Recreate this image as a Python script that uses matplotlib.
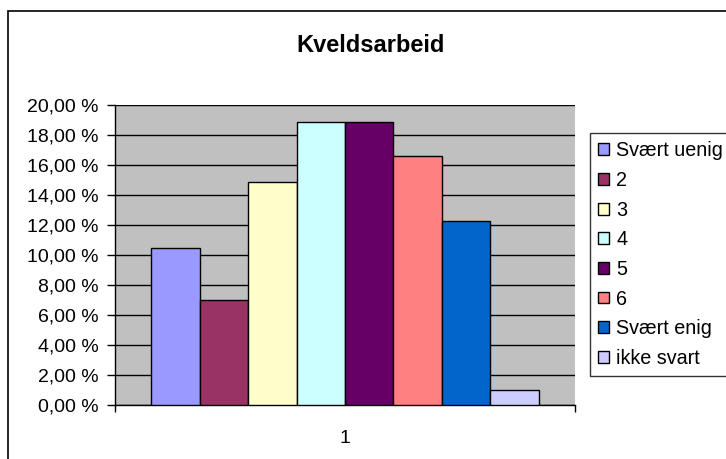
import matplotlib
matplotlib.use("Agg")
import matplotlib.pyplot as plt
from matplotlib.patches import Rectangle
import numpy as np

plt.rcParams['font.family'] = ['Liberation Sans', 'DejaVu Sans']

title = "Kveldsarbeid"
series_names = ["Svært uenig", "2", "3", "4", "5", "6", "Svært enig", "ikke svart"]
values = [10.5, 7.0, 14.9, 18.9, 18.9, 16.6, 12.3, 1.0]
colors = ["#9999FF", "#993366", "#FFFFCC", "#CCFFFF", "#660066", "#FF8080", "#0066CC", "#CCCCFF"]
category_label = "1"
yticks = [0, 2, 4, 6, 8, 10, 12, 14, 16, 18, 20]

W, H = 726, 459
fig = plt.figure(figsize=(W / 100, H / 100), dpi=100)
fig.patch.set_facecolor("white")

# chart-area border (extends beyond right/bottom of image)
fig.patches.append(Rectangle((8 / W, -0.2), 1.5, 1.2 - 11 / H,
                             transform=fig.transFigure, fill=False,
                             edgecolor="black", linewidth=1.2, zorder=0))

ax = fig.add_axes([115 / W, 1 - 405 / H, 460 / W, 300 / H])
ax.set_facecolor("#C0C0C0")

n = len(values)
unit = 1.0 / (n + 1.5)
lefts = -0.5 + 0.75 * unit + np.arange(n) * unit
bars = []
for i in range(n):
    b = ax.bar(lefts[i], values[i], width=unit, align="edge", color=colors[i],
               edgecolor="black", linewidth=1.0, label=series_names[i], zorder=3)
    bars.append(b)

ax.set_xlim(-0.5, 0.5)
ax.set_ylim(0, 20)
ax.set_yticks(yticks)
ax.set_yticklabels([f"{v:.2f}".replace(".", ",") + " %" for v in yticks])
ax.yaxis.grid(True, color="black", linewidth=1.0, zorder=1)
ax.set_axisbelow(True)

ax.set_xticks([-0.5, 0.5])
ax.set_xticklabels(["", ""])
ax.set_xticks([0], labels=[category_label], minor=True)
ax.tick_params(axis="x", which="minor", length=0, pad=18, labelsize=14)
ax.tick_params(axis="x", which="major", direction="out", length=5, width=1)
ax.tick_params(axis="y", direction="out", length=6, width=1, pad=6, labelsize=14)

for s in ["top", "right"]:
    ax.spines[s].set_visible(False)
for s in ["left", "bottom"]:
    ax.spines[s].set_color("black")
    ax.spines[s].set_linewidth(1.0)

fig.text(371 / W, 1 - 45 / H, title, ha="center", va="center",
         fontsize=17, fontweight="bold")

leg = fig.legend(handles=[b[0] for b in bars], labels=series_names,
                 loc="upper left", bbox_to_anchor=(590 / W, 1 - 133 / H),
                 bbox_transform=fig.transFigure, fontsize=14.2,
                 frameon=True, fancybox=False, shadow=False,
                 handlelength=0.55, handleheight=0.55, handletextpad=0.35,
                 labelspacing=0.54, borderpad=0.42, borderaxespad=0,
                 edgecolor="black")
leg.get_frame().set_linewidth(1.0)
leg.get_frame().set_facecolor("white")

fig.savefig("out.png", dpi=100)
